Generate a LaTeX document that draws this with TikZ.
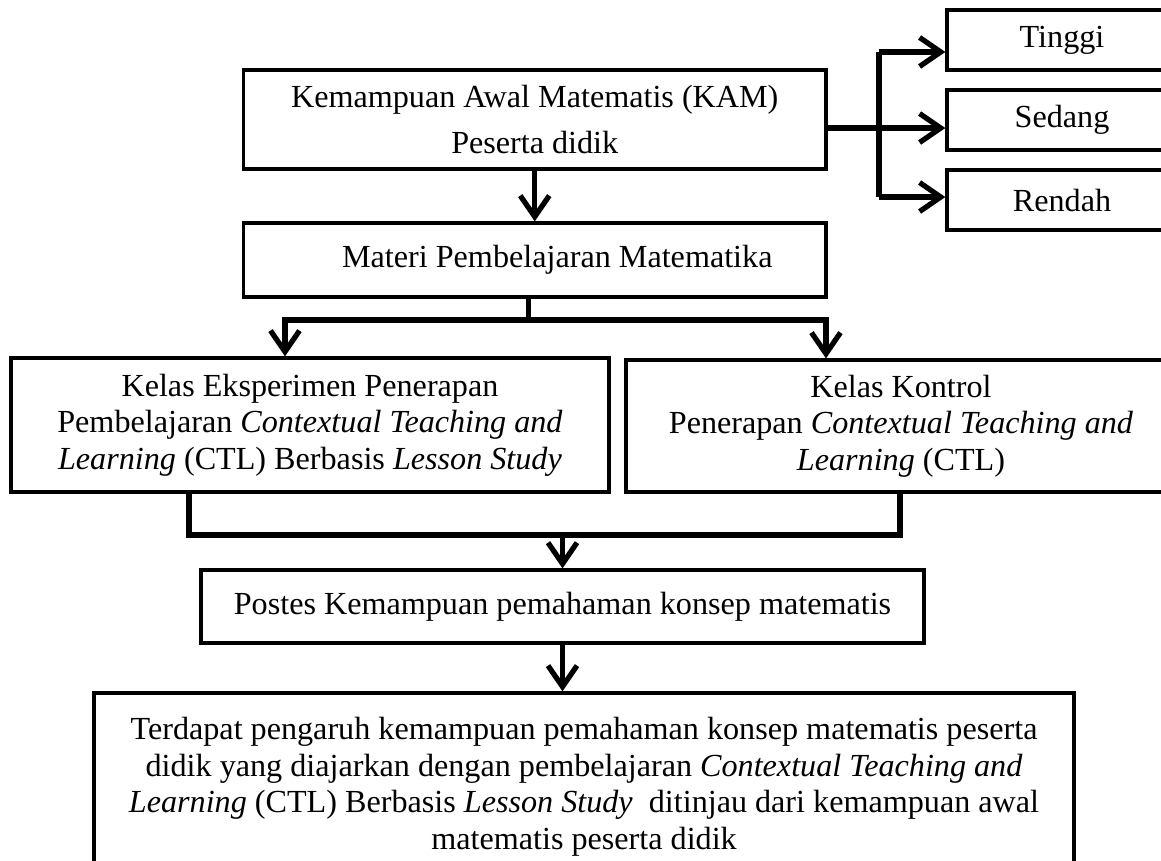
\documentclass[tikz,border=0pt]{standalone}
\usepackage{fontspec}
\setmainfont{Liberation Serif}
\usetikzlibrary{arrows.meta}

\begin{document}
\begin{tikzpicture}[
  kotak/.style={draw, line width=1.25pt, inner sep=0pt, align=center, font=\fontsize{12.2}{13.9}\selectfont},
  garis/.style={line width=2pt},
  panah/.style={line width=2pt, -{Straight Barb[length=8pt,width=11pt]}}
]
\useasboundingbox (0,0) rectangle (15.48,-11.467);
\node[kotak, minimum width=7.77cm, minimum height=1.32cm, font=\fontsize{12.2}{16.4}\selectfont] (kam) at (7.13,-1.593) {Kemampuan Awal Matematis (KAM)\\[1pt]Peserta didik};
\node[kotak, minimum width=7.77cm, minimum height=0.987cm] (materi) at (7.13,-3.467) {\hspace*{0.6cm}Materi Pembelajaran Matematika};
\node[kotak, minimum width=3.067cm, minimum height=0.8cm] (tinggi) at (14.16,-0.533) {Tinggi};
\node[kotak, minimum width=3.067cm, minimum height=0.8cm] (sedang) at (14.16,-1.6) {Sedang};
\node[kotak, minimum width=3.067cm, minimum height=0.8cm] (rendah) at (14.16,-2.667) {Rendah};
\node[kotak, minimum width=7.973cm, minimum height=1.787cm] (eksp) at (4.133,-5.667) {Kelas Eksperimen Penerapan\\Pembelajaran \textit{Contextual Teaching and}\\\textit{Learning} (CTL) Berbasis \textit{Lesson Study}};
\node[kotak, minimum width=7.333cm, minimum height=1.76cm] (kontrol) at (12.013,-5.68) {Kelas Kontrol\\Penerapan \textit{Contextual Teaching and}\\\textit{Learning} (CTL)};
\node[kotak, minimum width=9.64cm, minimum height=0.973cm] (postes) at (7.5,-8.087) {Postes Kemampuan pemahaman konsep matematis};
\node[kotak, minimum width=13.067cm, minimum height=2.5cm] (hasil) at (7.787,-10.49) {Terdapat pengaruh kemampuan pemahaman konsep matematis peserta\\didik yang diajarkan dengan pembelajaran \textit{Contextual Teaching and}\\\textit{Learning} (CTL) Berbasis \textit{Lesson Study}\ \ ditinjau dari kemampuan awal\\matematis peserta didik};
\coordinate (cab) at (11.72,-1.707);
\coordinate (ct) at (11.72,-0.693);
\coordinate (cb) at (11.72,-2.627);
\coordinate (pisah) at (7.05,-4.267);
\coordinate (ke) at (3.8,-4.267);
\coordinate (kn) at (11.013,-4.267);
\coordinate (gk) at (2.52,-7.133);
\coordinate (gn) at (12.0,-7.133);
\draw[garis] (kam.east |- cab) -- (cab);
\draw[garis] (ct) -- (cb);
\draw[panah] (ct) -- (tinggi.west |- ct);
\draw[panah] (cab) -- (sedang.west |- cab);
\draw[panah] (cb) -- (rendah.west |- cb);
\draw[panah] (kam) -- (materi);
\draw[garis] (materi.south -| pisah) -- (pisah);
\draw[panah] (pisah) -| (ke |- eksp.north);
\draw[panah] (pisah) -| (kn |- kontrol.north);
\draw[garis] (eksp.south -| gk) |- (gn) -- (kontrol.south -| gn);
\draw[panah] (postes.north |- gn) -- (postes.north);
\draw[panah] (postes.south) -- (hasil.north -| postes.south);
\end{tikzpicture}
\end{document}
